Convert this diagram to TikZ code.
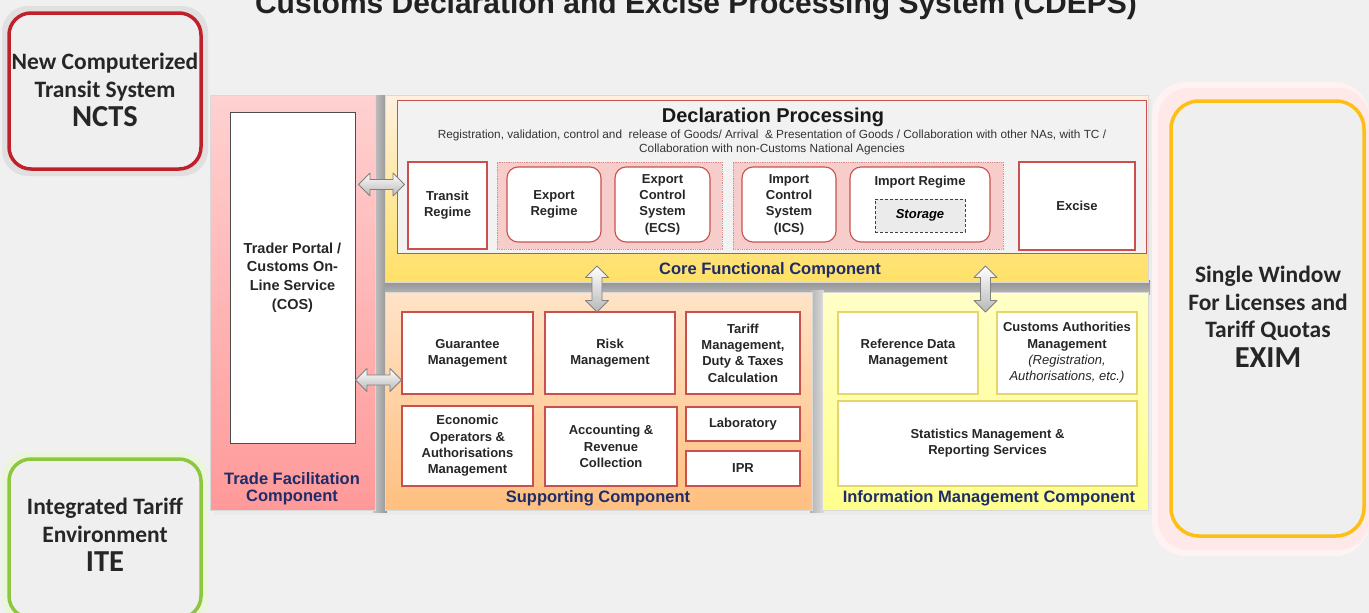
\documentclass[tikz,border=0pt]{standalone}
\usepackage{fontspec}
\setmainfont{Liberation Sans}
\newfontfamily\calib{Carlito}
\usetikzlibrary{fit,shadows,calc}
\definecolor{bg}{HTML}{F0F0F0}
\definecolor{boxred}{HTML}{C9504C}
\definecolor{grppink}{HTML}{F6CDCB}
\definecolor{grpred}{HTML}{D98C88}
\definecolor{navy}{HTML}{1F2C6A}
\definecolor{boxyel}{HTML}{E6D66A}
\definecolor{panel}{HTML}{F2F2F2}
\definecolor{ncred}{HTML}{C0202A}
\definecolor{itegreen}{HTML}{8DC63F}
\definecolor{eximyel}{HTML}{FDBE16}
\definecolor{sidegray}{HTML}{EFEFEF}
\newcommand\boxfont{\fontsize{13}{16.3}\selectfont\bfseries}
\newcommand\lblfont{\fontsize{16.5}{17}\selectfont\bfseries}
\newcommand\sidefont{\calib\fontsize{23.5}{27.5}\selectfont\bfseries}
\newcommand\sidebig{\fontsize{30.5}{33}\selectfont}
% \boxnode{style}{name}{x1}{y1}{x2}{y2}{text}
\newcommand\boxnode[7]{%
  \pgfmathsetmacro\bxw{#5-#3}\pgfmathsetmacro\bxh{#6-#4}%
  \pgfmathsetmacro\bxcx{(#3+#5)/2}\pgfmathsetmacro\bxcy{(#4+#6)/2}%
  \node[#1, minimum width=\bxw pt, minimum height=\bxh pt] (#2) at (\bxcx,\bxcy) {#7};}
% \dblarrow{center}{rotation}
\newcommand\dblarrow[2]{%
  \draw[blockarrow, shift={#1}, rotate=#2] (-23,0) -- (-11.5,-11.5) -- (-11.5,-5) -- (11.5,-5) -- (11.5,-11.5) -- (23,0) -- (11.5,11.5) -- (11.5,5) -- (-11.5,5) -- (-11.5,11.5) -- cycle;}
\tikzset{
  bx/.style={draw=boxred, line width=1.1pt, fill=white, inner sep=0pt, align=center, font=\boxfont, text=black!85},
  rbx/.style={bx, rounded corners=11pt},
  ybx/.style={bx, draw=boxyel},
  grp/.style={draw=grpred, densely dotted, line width=0.8pt, fill=grppink, inner sep=0pt},
  lbl/.style={font=\lblfont, text=navy, align=center, inner sep=0pt},
  side/.style={rounded corners=22pt, line width=3.5pt, fill=sidegray, inner sep=0pt},
  sidetxt/.style={font=\sidefont, align=center, text=black!85, inner sep=0pt},
  comp/.style={draw=black!15, line width=0.6pt, inner sep=0pt},
  blockarrow/.style={draw=black!50, line width=0.8pt, line join=round, top color=white, bottom color=black!28},
}
\begin{document}
\begin{tikzpicture}[x=1pt,y=-1pt]
\useasboundingbox[fill=bg] (0,0) rectangle (1369,613);
% title
\node[anchor=base, font=\fontsize{30}{32}\selectfont\bfseries, text=black!87, inner sep=0] (title) at (696,13) {Customs Declaration and Excise Processing System (CDEPS)};

% side boxes
\fill[black!12, rounded corners=26pt] (2,6) rectangle (208,176);
\boxnode{side, draw=ncred}{ncts}{9}{13}{201}{169}{}
\node[sidetxt] (nctst) at (105,90) {New Computerized\\Transit System\\[2pt]{\sidebig NCTS}};

\fill[itegreen!18, rounded corners=26pt] (2,452) rectangle (208,625);
\boxnode{side, draw=itegreen}{ite}{9}{459}{201}{618}{}
\node[sidetxt] (itet) at (105,535) {Integrated Tariff\\Environment\\[2pt]{\sidebig ITE}};

\fill[red!5, rounded corners=34pt] (1152,82) rectangle (1369,556);
\fill[red!9, rounded corners=30pt] (1158,88) rectangle (1369,550);
\boxnode{side, draw=eximyel, rounded corners=28pt}{exim}{1171}{101}{1364}{536}{}
\node[sidetxt] (eximt) at (1268,317) {Single Window\\For Licenses and\\Tariff Quotas\\[2pt]{\sidebig EXIM}};

% soft shadows between components
\fill[black!8] (214,99) rectangle (1152,515);
\shade[left color=black!22, right color=black!42] (373,95) rectangle (387,512);
\shade[top color=black!45, bottom color=black!28] (385,280) rectangle (1150,294);
\shade[left color=black!30, right color=black!14] (810,290) rectangle (824,512);

% Trade facilitation column
\boxnode{comp, top color=red!18, bottom color=red!40}{tfc}{210}{95}{375}{510}{}
\boxnode{bx, draw=black!70, line width=1pt, font=\fontsize{14.5}{18.7}\selectfont\bfseries}{portal}{230}{112}{355}{443}{Trader Portal /\\Customs On-\\Line Service\\(COS)}
\node[lbl] (tfclbl) at (292,489) {Trade Facilitation\\Component};

% Core functional component
\boxnode{comp, top color=orange!12, bottom color=orange!40!yellow!60}{core}{385}{95}{1148}{282}{}
\boxnode{draw=boxred, line width=1pt, fill=panel, inner sep=0pt}{dp}{397}{100}{1146}{253}{}
\node[font=\fontsize{20}{22}\selectfont\bfseries, text=black!90, inner sep=0] (dptitle) at (773,117) {Declaration Processing};
\node[font=\fontsize{11.8}{14}\selectfont, text=black!80, align=center, inner sep=0] (dpsub) at (772,142) {Registration, validation, control and\ \ release of Goods/ Arrival\ \ \& Presentation of Goods / Collaboration with other NAs, with TC /\\Collaboration with non-Customs National Agencies};
\boxnode{bx}{transit}{408}{162}{487}{249}{Transit\\Regime}
\boxnode{grp}{grp1}{497}{162}{722}{249}{}
\boxnode{rbx}{expreg}{507}{167}{601}{242}{Export\\Regime}
\boxnode{rbx}{ecs}{615}{167}{710}{242}{Export\\Control\\System\\(ECS)}
\boxnode{grp}{grp2}{733}{162}{1003}{249}{}
\boxnode{rbx}{ics}{742}{167}{836}{242}{Import\\Control\\System\\(ICS)}
\boxnode{rbx}{impreg}{850}{167}{990}{242}{}
\node[font=\boxfont, text=black!85, inner sep=0] (impt) at (920,182) {Import Regime};
\boxnode{draw=black!75, densely dashed, line width=1pt, fill=black!8, inner sep=0pt, font=\boxfont\itshape}{storage}{875}{199}{965}{232}{Storage}
\boxnode{bx}{excise}{1019}{162}{1135}{250}{Excise}
\node[lbl] (corelbl) at (770,270) {Core Functional Component};

% Supporting component
\boxnode{comp, top color=orange!22, bottom color=orange!50}{sup}{385}{292}{812}{510}{}
\boxnode{bx}{guar}{402}{312}{533}{394}{Guarantee\\Management}
\boxnode{bx}{risk}{545}{312}{675}{394}{Risk\\Management}
\boxnode{bx}{tariff}{686}{312}{800}{394}{Tariff\\Management,\\Duty \& Taxes\\Calculation}
\boxnode{bx}{eco}{402}{406}{533}{486}{Economic\\Operators \&\\Authorisations\\Management}
\boxnode{bx}{acc}{545}{407}{677}{486}{Accounting \&\\Revenue\\Collection}
\boxnode{bx}{lab}{686}{407}{800}{441}{Laboratory}
\boxnode{bx}{ipr}{686}{451}{800}{486}{IPR}
\node[lbl] (suplbl) at (598,498) {Supporting Component};

% Information management component
\boxnode{comp, top color=yellow!22, bottom color=yellow!45}{info}{822}{292}{1148}{510}{}
\boxnode{ybx}{refd}{838}{312}{978}{394}{Reference Data\\Management}
\boxnode{ybx}{cauth}{997}{312}{1137}{394}{Customs Authorities\\Management\\\textit{\mdseries (Registration,}\\\textit{\mdseries Authorisations, etc.)}}
\boxnode{ybx}{stat}{838}{401}{1137}{486}{Statistics Management \&\\Reporting Services}
\node[lbl] (infolbl) at (989,498) {Information Management Component};

% block arrows between components
\coordinate (a1) at ($(portal.east|-transit.west)!0.5!(transit.west)+(0,-21)$);
\coordinate (a2) at ($(portal.east|-guar.west)!0.5!(guar.west)+(0,27)$);
\coordinate (a3) at ($(core.south-|risk.north)!0.5!(sup.north-|risk.north)+(-13,2)$);
\coordinate (a4) at ($(core.south-|refd.east)!0.5!(info.north-|cauth.west)+(-2,2)$);
\dblarrow{(a1)}{0}
\dblarrow{(a2)}{0}
\dblarrow{(a3)}{90}
\dblarrow{(a4)}{90}
\end{tikzpicture}
\end{document}
